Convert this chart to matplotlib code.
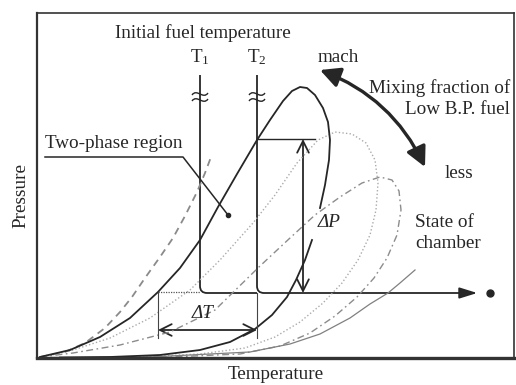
import numpy as np
import matplotlib.pyplot as plt
from matplotlib.patches import FancyArrowPatch, PathPatch
from matplotlib.path import Path

plt.rcParams['font.family'] = 'Liberation Serif'
plt.rcParams['mathtext.fontset'] = 'custom'
plt.rcParams['mathtext.rm'] = 'Liberation Serif'
plt.rcParams['mathtext.it'] = 'Liberation Serif:italic'

INK = '#262626'
FS = 13.8

# --- phase envelopes (temperature, pressure in arbitrary units) ---
# blend rich in low b.p. fuel: bubble line + upper dew line
rich_t = [3, 33, 63, 93, 121, 143, 163, 181, 200, 220, 233, 246, 255, 263,
          270, 278, 286, 291, 293, 292, 288, 283]
rich_p = [1, 8, 21, 40, 66, 90, 118, 151, 184, 218, 238, 257, 267, 271,
          270, 263, 250, 236, 218, 198, 173, 150]
# lower part of the same dew line (broken around the dP label)
rich_low_t = [275, 268, 259, 250, 235, 218, 193, 163, 123, 73, 23]
rich_low_p = [118, 98, 78, 61, 43, 29, 16, 8, 3, 1, 0.5]

# pure low b.p. fuel vapour pressure line
low_t = [3, 28, 48, 68, 83, 95, 108, 123, 136, 148, 160, 168, 174]
low_p = [1, 6, 15, 30, 46, 61, 80, 101, 120, 142, 166, 185, 201]

# intermediate blend
mid_t = [3, 33, 73, 113, 153, 183, 216, 238, 260, 281, 298, 315, 329, 338,
         341, 339, 333, 321, 305, 286, 263, 238, 208, 163, 103, 43]
mid_p = [1, 7, 20, 40, 68, 98, 135, 163, 195, 218, 226, 224, 215, 198,
         175, 148, 123, 98, 75, 55, 36, 21, 10, 4, 1, 0.5]

# blend poor in low b.p. fuel
lean_t = [3, 36, 83, 133, 178, 223, 253, 278, 303, 325, 343, 355, 362, 364,
          360, 350, 337, 320, 298, 273, 243, 203, 133, 63]
lean_p = [1, 5, 13, 26, 48, 92, 120, 143, 161, 175, 181, 178, 167, 148,
          123, 100, 80, 61, 42, 25, 12, 4, 1, 0.5]

# pure high b.p. fuel vapour pressure line
high_t = [3, 113, 213, 253, 283, 313, 333, 351, 363, 378]
high_p = [0.5, 1, 6, 14, 24, 40, 54, 65, 75, 88]

# initial fuel temperatures and chamber state
T1, T2 = 163, 220
T_TOP = 283
P_CH = 65
T_ARROW, T_DOT = 443, 453
P_TOP_DP = 219
T_DP = 266
T_DT_LEFT = 121
P_DT = 28

fig = plt.figure(figsize=(5.16, 3.85), dpi=100)
ax = fig.add_axes([37 / 516, 1 - 358 / 385, 477 / 516, 345.5 / 385])
ax.set_xlim(0, 477)
ax.set_ylim(0, 345.5)
ax.set_xticks([])
ax.set_yticks([])
for side, lw in [('left', 1.6), ('top', 1.2), ('right', 1.2), ('bottom', 2.4)]:
    ax.spines[side].set_linewidth(lw)
    ax.spines[side].set_color('#333333')

# envelopes
ax.plot(low_t, low_p, color='#8a8a8a', lw=1.3, dashes=(4, 3))
ax.plot(mid_t, mid_p, color='#ababab', lw=1.0, linestyle=(0, (1, 1.6)))
ax.plot(lean_t, lean_p, color='#8c8c8c', lw=1.0, linestyle=(0, (5, 2.5, 1.2, 2.5)))
ax.plot(high_t, high_p, color='#808080', lw=0.9)
ax.plot(rich_t, rich_p, color=INK, lw=1.3)
ax.plot(rich_low_t, rich_low_p, color=INK, lw=1.3)

# fuel temperature lines bending into the chamber state line
r = 7
for t, t_end in [(T1, T2), (T2, T_ARROW - 12)]:
    verts = [(t, T_TOP), (t, P_CH + r), (t, P_CH), (t + r, P_CH), (t_end, P_CH)]
    codes = [Path.MOVETO, Path.LINETO, Path.CURVE3, Path.CURVE3, Path.LINETO]
    ax.add_patch(PathPatch(Path(verts, codes), fill=False, color=INK, lw=1.3))
    # break marks
    for p in (264, 258):
        bv = [(t - 8, p - 1), (t - 3, p + 6), (t + 3, p - 6), (t + 8, p + 1)]
        bc = [Path.MOVETO, Path.CURVE4, Path.CURVE4, Path.CURVE4]
        ax.add_patch(PathPatch(Path(bv, bc), fill=False, color=INK, lw=1.0))

ax.add_patch(FancyArrowPatch((T_ARROW - 14, P_CH), (T_ARROW, P_CH),
                             arrowstyle='-|>,head_length=0.9,head_width=0.28',
                             mutation_scale=12, color=INK, lw=1.3))
ax.plot([T_DOT], [P_CH], 'o', color=INK, ms=5)

# delta T
ax.plot([T_DT_LEFT, T1], [P_CH + 1, P_CH + 1], color='#555555', lw=0.9, linestyle=(0, (1, 1)))
ax.plot([T_DT_LEFT, T_DT_LEFT], [P_CH + 1, P_DT - 8], color='#444444', lw=0.8)
ax.plot([T2, T2], [P_CH, P_DT - 8], color='#444444', lw=0.8)
ax.add_patch(FancyArrowPatch((T_DT_LEFT, P_DT), (T2, P_DT),
                             arrowstyle='<->,head_length=0.6,head_width=0.3',
                             mutation_scale=14, color=INK, lw=1.3, shrinkA=0, shrinkB=0))
ax.text(166, 45, 'ΔT', fontsize=FS, style='italic', ha='center', va='center', color=INK)

# delta P
ax.plot([T2, 278], [P_TOP_DP, P_TOP_DP], color=INK, lw=1.0)
ax.add_patch(FancyArrowPatch((T_DP, P_CH), (T_DP, P_TOP_DP),
                             arrowstyle='<->,head_length=0.6,head_width=0.3',
                             mutation_scale=14, color=INK, lw=1.3, shrinkA=0, shrinkB=0))
ax.text(292, 136, 'ΔP', fontsize=FS, style='italic', ha='center', va='center', color=INK)

# two-phase region leader
ax.plot([8, 146, 191], [201, 201, 143], color=INK, lw=1.1)
ax.plot([191], [143], 'o', color=INK, ms=3)
ax.text(8, 215, 'Two-phase region', fontsize=FS, ha='left', va='center', color=INK)

# mixing fraction arrow
ax.add_patch(FancyArrowPatch((283, 288), (388, 191),
                             arrowstyle='<|-|>,head_length=0.75,head_width=0.38',
                             connectionstyle='arc3,rad=-0.2',
                             mutation_scale=16, color=INK, lw=2.4,
                             shrinkA=0, shrinkB=0))

ax.text(166, 325, 'Initial fuel temperature', fontsize=FS, ha='center', va='center', color=INK)
ax.text(T1, 301, r'$\mathrm{T}_1$', fontsize=FS, ha='center', va='center', color=INK)
ax.text(T2, 301, r'$\mathrm{T}_2$', fontsize=FS, ha='center', va='center', color=INK)
ax.text(301, 301, 'mach', fontsize=FS, ha='center', va='center', color=INK)
ax.text(473, 270, 'Mixing fraction of', fontsize=FS, ha='right', va='center', color=INK)
ax.text(473, 248, 'Low B.P. fuel', fontsize=FS, ha='right', va='center', color=INK)
ax.text(422, 185, 'less', fontsize=FS, ha='center', va='center', color=INK)
ax.text(378, 136, 'State of', fontsize=FS, ha='left', va='center', color=INK)
ax.text(378, 115, 'chamber', fontsize=FS, ha='left', va='center', color=INK)

ax.set_xlabel('Temperature', fontsize=FS, color=INK)
ax.set_ylabel('Pressure', fontsize=FS, color=INK)
ax.xaxis.set_label_coords(0.5, -0.022)
ax.yaxis.set_label_coords(-0.016, 0.469)

fig.savefig('out.png', dpi=100)
